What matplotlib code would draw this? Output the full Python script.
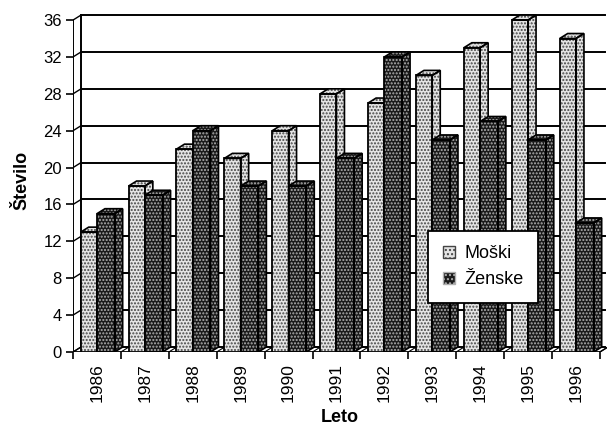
import matplotlib
matplotlib.use("Agg")
import matplotlib.pyplot as plt
from matplotlib.patches import Polygon, Patch
import numpy as np

years = ["1986", "1987", "1988", "1989", "1990", "1991", "1992", "1993", "1994", "1995", "1996"]
moski = [13, 18, 22, 21, 24, 28, 27, 30, 33, 36, 34]
zenske = [15, 17, 24, 18, 18, 21, 32, 23, 25, 23, 14]
yticks = list(range(0, 37, 4))

plt.rcParams['font.family'] = ['Liberation Sans', 'DejaVu Sans']
plt.rcParams['hatch.linewidth'] = 1.0

W, H = 607, 430
fig = plt.figure(figsize=(W / 100, H / 100), dpi=100)
px_cat = 47.9
px_unit = 9.22
left_px, bottom_px = 73, 352
ax_w_px = W - left_px
ax_h_px = 37.3 * px_unit
ax = fig.add_axes([left_px / W, (H - bottom_px) / H, ax_w_px / W, ax_h_px / H])
xmax = -0.5 + ax_w_px / px_cat
ax.set_xlim(-0.5, xmax)
ax.set_ylim(0, 37.3)

dx = 8 / px_cat
dy = 5 / px_unit
n = len(years)
xr = n - 0.5

# back wall gridlines and connectors
for t in yticks:
    ax.plot([-0.5 + dx, xr + dx * 0.6], [t + dy, t + dy], color='black', lw=1.4, zorder=1)
    ax.plot([-0.5, -0.5 + dx], [t, t + dy], color='black', lw=1.0, zorder=1)
ax.plot([-0.5 + dx, -0.5 + dx], [dy, yticks[-1] + dy], color='black', lw=1.4, zorder=1)
# floor
ax.plot([-0.5, xr], [0, 0], color='black', lw=1.3, zorder=1)
ax.plot([xr, xr + dx], [0, dy], color='black', lw=1.0, zorder=1)
for i in range(n + 1):
    ax.plot([i - 0.5, i - 0.5 + dx], [0, dy], color='black', lw=0.8, zorder=1)

wl, wd = 0.34, 0.37
x = np.arange(n)

LIGHT = dict(facecolor='#e4e4e4', edgecolor='#444444', hatch='.....', lw=0)
DARK = dict(facecolor='#1a1a1a', edgecolor='#b0b0b0', hatch='.....', lw=0)


def draw_bar(x0, x1, v, light, z):
    kw = LIGHT if light else DARK
    side = [(x1, 0), (x1 + dx, dy), (x1 + dx, v + dy), (x1, v)]
    cap = [(x0, v), (x1, v), (x1 + dx, v + dy), (x0 + dx, v + dy)]
    for poly in (side, cap):
        ax.add_patch(Polygon(poly, closed=True, zorder=z, **kw))
        ax.add_patch(Polygon(poly, closed=True, fill=False, edgecolor='black', lw=1.2, zorder=z + 0.1))
    ax.bar([x0], [v], width=x1 - x0, align='edge', zorder=z, **kw)
    ax.bar([x0], [v], width=x1 - x0, align='edge', fill=False, edgecolor='black', lw=1.3, zorder=z + 0.1)


for i in range(n):
    draw_bar(x[i] - wl, x[i], moski[i], True, 2 + i)
    draw_bar(x[i], x[i] + wd, zenske[i], False, 2.5 + i)

# axes styling
for s in ax.spines.values():
    s.set_visible(False)
ax.plot([-0.5, -0.5], [0, yticks[-1]], color='black', lw=1.4, zorder=20)
ax.set_yticks(yticks)
ax.set_yticklabels([str(t) for t in yticks], fontsize=12)
ax.tick_params(axis='y', length=5, width=1.2, pad=3)
ax.set_xticks(x)
ax.set_xticklabels(years, rotation=90, fontsize=12.5)
ax.set_xticks(np.arange(n + 1) - 0.5, minor=True)
ax.tick_params(axis='x', which='major', length=0, pad=8)
ax.tick_params(axis='x', which='minor', length=5, width=1.2, direction='out')
ax.yaxis.set_ticks_position('left')

ax.set_ylabel('Število', fontsize=13, fontweight='bold', labelpad=9)
ax.set_xlabel('Leto', fontsize=13, fontweight='bold', labelpad=5)

handles = [Patch(facecolor='#e4e4e4', edgecolor='#444444', hatch='....', label='Moški'),
           Patch(facecolor='#1a1a1a', edgecolor='#b0b0b0', hatch='....', label='Ženske')]
leg = ax.legend(handles=handles, loc='upper left', bbox_to_anchor=(0.665, 0.352),
                fontsize=13, frameon=True, fancybox=False, edgecolor='black', framealpha=1,
                handlelength=0.7, handleheight=0.7, handletextpad=0.5,
                borderpad=0.8, labelspacing=0.5, borderaxespad=0)
leg.get_frame().set_linewidth(1.3)
leg.set_zorder(50)

fig.savefig('out.png', dpi=100)
